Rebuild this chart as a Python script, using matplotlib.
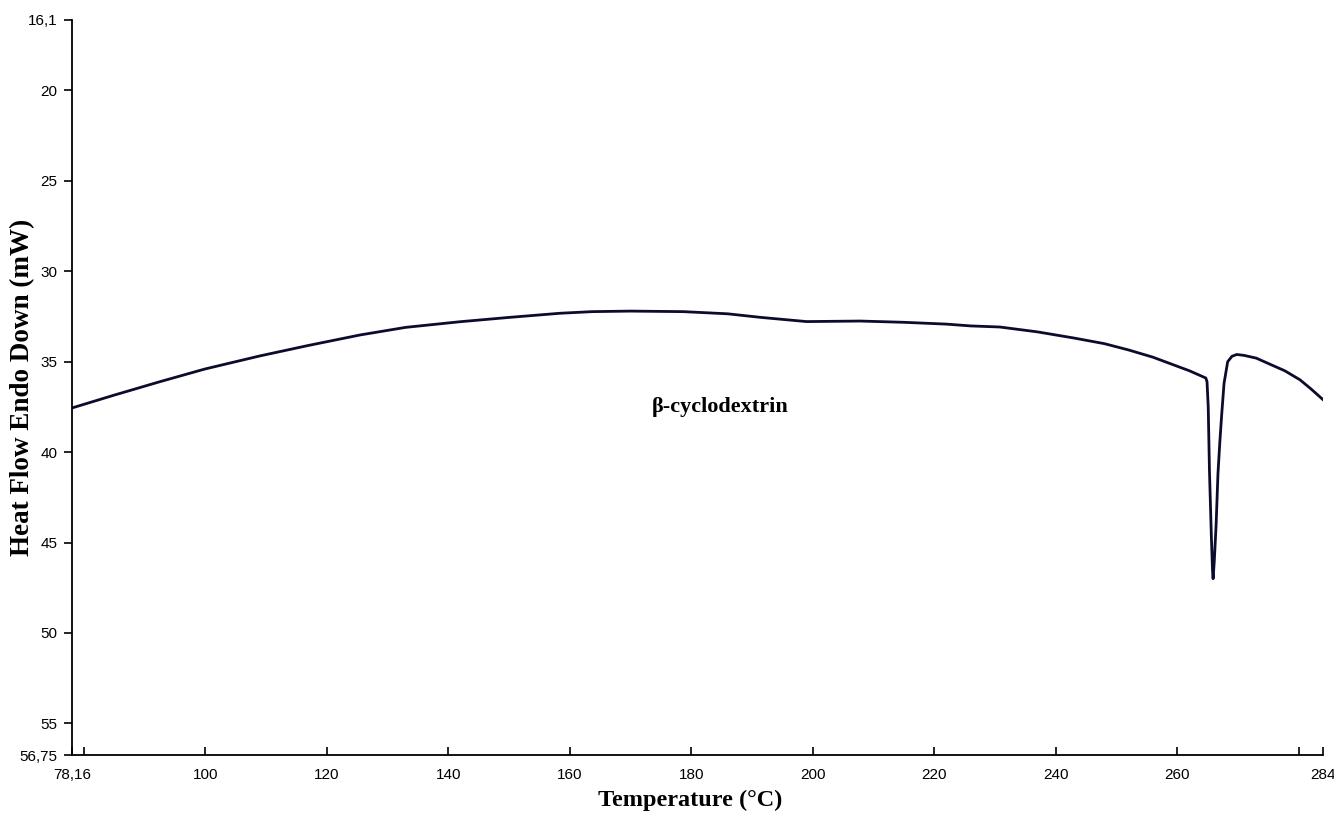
import matplotlib
matplotlib.use("Agg")
import matplotlib.pyplot as plt

temp = [78.16, 85.0, 92.6, 100.0, 109.0, 117.0, 125.5, 133.0, 141.9, 150.0, 158.4,
        163.7, 170.0, 178.7, 186.0, 191.5, 199.0, 207.8, 215.0, 222.0, 226.0, 230.8,
        237.0, 243.0, 248.0, 252.0, 256.0, 258.8, 262.0, 264.7,
        264.9, 265.1, 265.3, 265.6, 265.8, 265.9, 266.1, 266.4, 266.7, 267.0,
        267.3, 267.7, 268.3, 269.0, 269.8, 271.0, 273.0, 275.0, 277.7, 280.2,
        282.0, 284.0]
heat_flow = [37.55, 36.85, 36.1, 35.4, 34.68, 34.1, 33.52, 33.1, 32.79, 32.55, 32.32,
             32.23, 32.2, 32.23, 32.35, 32.55, 32.78, 32.75, 32.82, 32.92, 33.02, 33.08,
             33.35, 33.69, 34.0, 34.35, 34.75, 35.1, 35.5, 35.9,
             36.1, 37.5, 41.0, 44.5, 46.5, 47.0, 46.0, 44.0, 41.2, 39.5,
             38.0, 36.2, 35.0, 34.7, 34.6, 34.65, 34.8, 35.1, 35.5, 36.0,
             36.5, 37.1]

x_ticks = [78.16, 100, 120, 140, 160, 180, 200, 220, 240, 260, 284]
x_ticklabels = ["78,16", "100", "120", "140", "160", "180", "200", "220", "240", "260", "284"]
x_minor = [80, 280]
y_ticks = [16.1, 20, 25, 30, 35, 40, 45, 50, 55, 56.75]
y_ticklabels = ["16,1", "20", "25", "30", "35", "40", "45", "50", "55", "56,75"]

fig = plt.figure(figsize=(13.34, 8.15), dpi=100)
ax = fig.add_axes([0.0543, 0.0736, 0.9375, 0.9019])

ax.plot(temp, heat_flow, color="#0b0b2e", linewidth=2.0, solid_joinstyle="round")

ax.set_xlim(78.16, 284)
ax.set_ylim(56.75, 16.1)

ax.spines["top"].set_visible(False)
ax.spines["right"].set_visible(False)
for s in ("left", "bottom"):
    ax.spines[s].set_linewidth(1.3)
    ax.spines[s].set_color("black")

ax.set_xticks(x_ticks)
ax.set_xticklabels(x_ticklabels, fontfamily="Liberation Sans", fontsize=11)
ax.set_xticks(x_minor, minor=True)
ax.set_yticks(y_ticks)
ax.set_yticklabels(y_ticklabels, fontfamily="Liberation Sans", fontsize=11)
ax.tick_params(axis="x", which="both", direction="in", length=6, width=1.2, pad=9)
ax.tick_params(axis="y", direction="out", length=6, width=1.2, pad=5)

ax.set_xlabel("Temperature (°C)", fontfamily="Liberation Serif", fontweight="bold",
              fontsize=17.5)
ax.xaxis.set_label_coords((690 - 72.5) / 1250.5, (755 - 800) / 735.0)
ax.set_ylabel("Heat Flow Endo Down (mW)", fontfamily="Liberation Serif", fontweight="bold",
              fontsize=19.5)
ax.yaxis.set_label_coords((23 - 72.5) / 1250.5, (755 - 387) / 735.0)
ax.xaxis.label.set_va("center")
ax.yaxis.label.set_va("center")

ax.text(184.7, 37.5, "β-cyclodextrin", fontfamily="Liberation Serif", fontweight="bold",
        fontsize=16, ha="center", va="center")

fig.savefig("out.png", dpi=100)
